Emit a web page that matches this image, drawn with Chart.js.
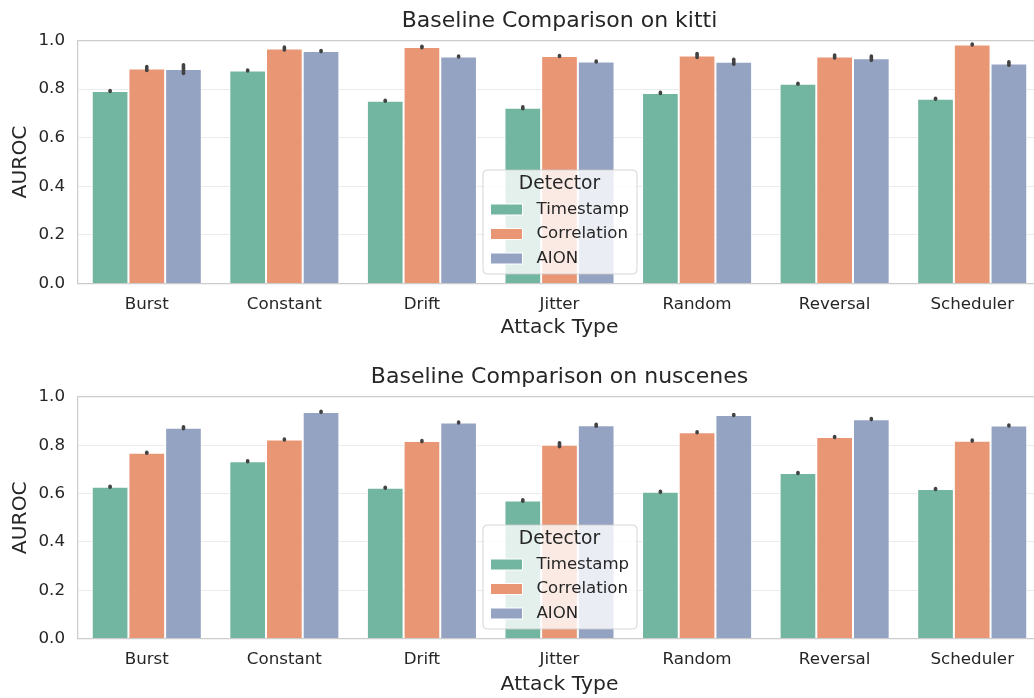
<!DOCTYPE html>
<html>
<head>
<meta charset="utf-8">
<script src="https://cdn.jsdelivr.net/npm/chart.js@4"></script>
<style>
  html, body { margin: 0; padding: 0; background: #fff; }
  #wrap { position: relative; width: 1034px; height: 698px; overflow: hidden; }
  canvas { position: absolute; left: 0; }
  #c1 { top: 0; }
  #c2 { top: 349px; }
</style>
</head>
<body>
<div id="wrap">
  <canvas id="c1" width="1042" height="349"></canvas>
  <canvas id="c2" width="1042" height="349"></canvas>
</div>
<script>
const categories = ['Burst', 'Constant', 'Drift', 'Jitter', 'Random', 'Reversal', 'Scheduler'];
const detectors = ['Timestamp', 'Correlation', 'AION'];
const yTicks = [0, 0.2, 0.4, 0.6, 0.8, 1.0];

// kitti
const kittiTimestamp   = [0.792, 0.876, 0.752, 0.723, 0.784, 0.822, 0.760];
const kittiCorrelation = [0.884, 0.967, 0.973, 0.936, 0.938, 0.934, 0.983];
const kittiAion        = [0.882, 0.956, 0.934, 0.913, 0.912, 0.927, 0.905];
const kittiTimestampErr   = [0.002, 0.002, 0.002, 0.004, 0.002, 0.002, 0.002];
const kittiCorrelationErr = [0.008, 0.006, 0.003, 0.002, 0.008, 0.006, 0.002];
const kittiAionErr        = [0.018, 0.002, 0.002, 0.002, 0.010, 0.009, 0.007];

// nuscenes
const nusTimestamp   = [0.628, 0.734, 0.624, 0.571, 0.607, 0.685, 0.619];
const nusCorrelation = [0.769, 0.824, 0.817, 0.802, 0.854, 0.834, 0.819];
const nusAion        = [0.872, 0.938, 0.894, 0.883, 0.925, 0.908, 0.882];
const nusTimestampErr   = [0.002, 0.002, 0.002, 0.003, 0.002, 0.002, 0.002];
const nusCorrelationErr = [0.002, 0.002, 0.002, 0.008, 0.002, 0.002, 0.002];
const nusAionErr        = [0.004, 0.002, 0.002, 0.004, 0.002, 0.002, 0.002];

const colors = ['#72b6a1', '#e99675', '#95a3c3'];
const textColor = '#262626';
const FONT = '"DejaVu Sans", sans-serif';

// small dark error bars on top of each bar
const errorBars = {
  id: 'errorBars',
  afterDatasetsDraw(chart) {
    const ctx = chart.ctx, y = chart.scales.y;
    ctx.save();
    ctx.strokeStyle = '#424242';
    ctx.lineWidth = 3.6;
    ctx.lineCap = 'round';
    chart.data.datasets.forEach((ds, i) => {
      chart.getDatasetMeta(i).data.forEach((bar, j) => {
        const v = ds.data[j], e = ds.errors[j];
        ctx.beginPath();
        ctx.moveTo(bar.x, y.getPixelForValue(v - e));
        ctx.lineTo(bar.x, y.getPixelForValue(v + e));
        ctx.stroke();
      });
    });
    ctx.restore();
  }
};

// matplotlib style legend sitting inside the plot, lower center
const boxLegend = {
  id: 'boxLegend',
  afterDraw(chart) {
    const ctx = chart.ctx, a = chart.chartArea;
    const w = 154, h = 104;
    const x = (a.left + a.right) / 2 - w / 2;
    const y = a.bottom - 10 - h;
    ctx.save();
    ctx.beginPath();
    ctx.roundRect(x + 0.5, y + 0.5, w, h, 4);
    ctx.fillStyle = 'rgba(255,255,255,0.8)';
    ctx.fill();
    ctx.strokeStyle = 'rgba(204,204,204,0.8)';
    ctx.lineWidth = 1;
    ctx.stroke();

    ctx.fillStyle = textColor;
    ctx.textBaseline = 'middle';
    ctx.textAlign = 'center';
    ctx.font = '18.7px ' + FONT;
    ctx.fillText('Detector', x + w / 2, y + 15);

    ctx.textAlign = 'left';
    ctx.font = '16.6px ' + FONT;
    chart.data.datasets.forEach((ds, i) => {
      const ry = y + 40 + i * 24.5;
      ctx.fillStyle = ds.backgroundColor;
      ctx.fillRect(x + 8, ry - 5.5, 32, 11);
      ctx.strokeStyle = '#ffffff';
      ctx.strokeRect(x + 8, ry - 5.5, 32, 11);
      ctx.fillStyle = textColor;
      ctx.fillText(ds.label, x + 54, ry);
    });
    ctx.restore();
  }
};

function makeChart(id, title, series, errors, lay) {
  new Chart(document.getElementById(id), {
    type: 'bar',
    data: {
      labels: categories,
      datasets: detectors.map((d, i) => ({
        label: d,
        data: series[i],
        errors: errors[i],
        backgroundColor: colors[i],
        borderColor: '#ffffff',
        borderWidth: 1,
        categoryPercentage: 0.8,
        barPercentage: 1.0
      }))
    },
    options: {
      responsive: false,
      animation: false,
      layout: { padding: { left: 4, right: 1, top: lay.padTop, bottom: 0 } },
      plugins: {
        legend: { display: false },
        tooltip: { enabled: false },
        title: {
          display: true,
          text: title,
          fullSize: false,
          color: textColor,
          font: { family: FONT, size: 22, weight: 'normal' },
          padding: { top: 8, bottom: 6 }
        }
      },
      scales: {
        x: {
          grid: { display: false, drawTicks: false },
          border: { color: '#cccccc', width: 1.25 },
          ticks: { padding: 11, color: textColor, font: { family: FONT, size: 16.7 } },
          title: {
            display: true, text: 'Attack Type', color: textColor,
            font: { family: FONT, size: 20.3 },
            padding: { top: 0, bottom: lay.titleBottom }
          },
          afterFit: s => { s.height = lay.xHeight; }
        },
        y: {
          min: 0, max: 1,
          afterBuildTicks: s => { s.ticks = yTicks.map(v => ({ value: v })); },
          ticks: {
            padding: 13, color: textColor, font: { family: FONT, size: 16.7 },
            callback: v => Number(v).toFixed(1)
          },
          grid: {
            drawTicks: false,
            color: c => (c.tick && Math.abs(c.tick.value - 1) < 1e-9) ? '#cccccc' : '#ebebeb',
            lineWidth: c => (c.tick && Math.abs(c.tick.value - 1) < 1e-9) ? 1.25 : 1
          },
          border: { color: '#cccccc', width: 1.25 },
          title: {
            display: true, text: 'AUROC', color: textColor,
            font: { family: FONT, size: 20.3 },
            padding: { top: 5, bottom: 0 }
          },
          afterFit: s => { s.width = 74; }
        }
      }
    },
    plugins: [errorBars, boxLegend]
  });
}

makeChart('c1', 'Baseline Comparison on kitti',
  [kittiTimestamp, kittiCorrelation, kittiAion],
  [kittiTimestampErr, kittiCorrelationErr, kittiAionErr],
  { padTop: 0, xHeight: 65.5, titleBottom: 9 });

makeChart('c2', 'Baseline Comparison on nuscenes',
  [nusTimestamp, nusCorrelation, nusAion],
  [nusTimestampErr, nusCorrelationErr, nusAionErr],
  { padTop: 7.5, xHeight: 59.5, titleBottom: 1 });
</script>
</body>
</html>
